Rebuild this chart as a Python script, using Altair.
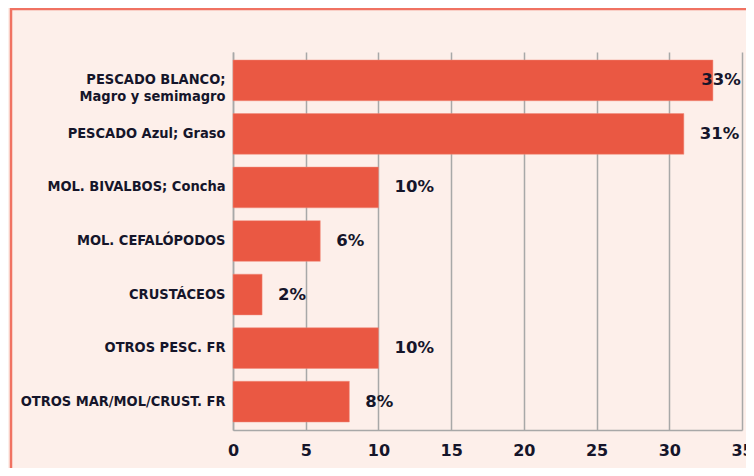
import altair as alt
import pandas as pd

categories = [
    "PESCADO BLANCO;\nMagro y semimagro",
    "PESCADO Azul; Graso",
    "MOL. BIVALBOS; Concha",
    "MOL. CEFALÓPODOS",
    "CRUSTÁCEOS",
    "OTROS PESC. FR",
    "OTROS MAR/MOL/CRUST. FR",
]
values = [33, 31, 10, 6, 2, 10, 8]
x_ticks = [0, 5, 10, 15, 20, 25, 30, 35]

df = pd.DataFrame({"cat": categories, "value": values})
df["label"] = [f"{v}%" for v in values]

BAR = "#EA5843"
BG = "#FDEFEA"
BORDER = "#F07262"
TEXT = "#15152a"
LABEL_FONT = "Liberation Sans Narrow, DejaVu Sans Condensed, Roboto Condensed, Arial Narrow, sans-serif"
NUM_FONT = "DejaVu Sans"

frame = alt.Chart(alt.Data(values=[{}])).mark_rect(
    filled=False, stroke=BORDER, strokeWidth=2.5, clip=False
).encode(
    x=alt.value(-222), x2=alt.value(700), y=alt.value(-43), y2=alt.value(600)
)

base = alt.Chart(df)

y_enc = alt.Y(
    "cat:N",
    sort=categories,
    title=None,
    scale=alt.Scale(paddingInner=0.24, paddingOuter=0.15),
    axis=alt.Axis(
        labelExpr="split(datum.label, '\\n')",
        labelFont=LABEL_FONT,
        labelFontSize=14.5,
        labelFontWeight="bold",
        labelColor=TEXT,
        labelLimit=400,
        labelPadding=8,
        labelLineHeight=17,
        ticks=False,
        domain=True,
        domainColor="#A8A8A8",
        domainWidth=1.5,
        grid=False,
    ),
)

bars = base.mark_bar(color=BAR, stroke="#F08a7a", strokeWidth=0.5).encode(
    x=alt.X(
        "value:Q",
        title=None,
        scale=alt.Scale(domain=[0, 35], nice=False),
        axis=alt.Axis(
            values=x_ticks,
            labelFont=NUM_FONT,
            labelFontSize=16,
            labelFontWeight="bold",
            labelColor=TEXT,
            labelPadding=12,
            ticks=False,
            grid=True,
            gridColor="#A8A8A8",
            gridWidth=1.5,
            domainColor="#A8A8A8",
            domainWidth=1.5,
            labelFlush=False,
        ),
    ),
    y=y_enc,
)

labels = base.transform_calculate(
    lx="min(datum.value + 1.1, 32.2)"
).mark_text(
    align="left", baseline="middle", font=NUM_FONT, fontSize=16.5,
    fontWeight="bold", color=TEXT,
).encode(
    x=alt.X("lx:Q"),
    y=alt.Y("cat:N", sort=categories),
    text="label:N",
)

chart = alt.layer(frame, bars, labels).properties(
    width=509,
    height=378,
    background=BG,
    padding={"left": 225, "top": 44, "right": 4, "bottom": 38},
    autosize=alt.AutoSizeParams(type="none"),
).configure_view(stroke=None)

chart.save("out.html", embed_options={"renderer": "svg", "actions": False})
